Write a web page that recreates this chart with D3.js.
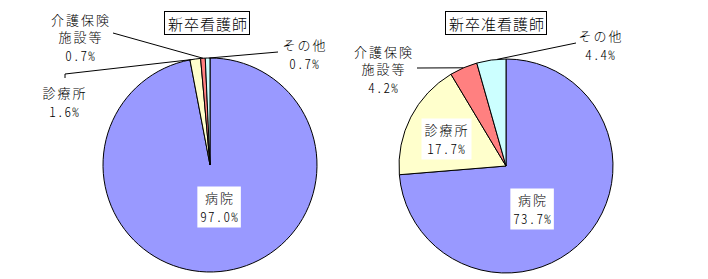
<!DOCTYPE html>
<html>
<head>
<meta charset="utf-8">
<script src="https://cdn.jsdelivr.net/npm/d3@7"></script>
<style>
  html, body { margin: 0; padding: 0; background: #fff; }
  svg { display: block; }
  .cjk { font-family: "Noto Sans CJK JP", sans-serif; font-size: 13px; font-weight: 300; letter-spacing: 2px; }
  .num { font-family: "Noto Sans CJK JP", sans-serif; font-size: 13px; font-weight: 300; font-feature-settings: "hwid" 1; letter-spacing: 1.2px; }
  .title { font-family: "Noto Sans CJK JP", sans-serif; font-size: 15px; font-weight: 300; letter-spacing: 1px; }
</style>
</head>
<body>
<svg id="chart" width="708" height="279"></svg>
<script>
// Destination categories of newly qualified nurses (%)
const categories = ["病院", "診療所", "介護保険施設等", "その他"];
const categoryLines = [["病院"], ["診療所"], ["介護保険", "施設等"], ["その他"]];
const colors = ["#9999FF", "#FFFFCC", "#FF8080", "#CCFFFF"];

const titles = ["新卒看護師", "新卒准看護師"];
const nurseValues = [97.0, 1.6, 0.7, 0.7];
const assistantNurseValues = [73.7, 17.7, 4.2, 4.4];

const svg = d3.select("#chart");
const fmt = v => d3.format(".1f")(v) + "%";
const radius = 107;
const nameGap = 17.5;   // between name lines
const valueGap = 19;    // from last name line to the value line

// Layout for each pie: centre, title box, and where each label sits.
// label: x = text centre, y = first line centre, boxed = white backing,
// leader = start points of the leader polyline, at = position within slice.
const layouts = [
  {
    cx: 210, cy: 165, titleX: 208, titleY: 23,
    labels: [
      { x: 219, y: 197.5, boxed: true },
      { x: 64, y: 92.5, leader: [[65, 78], [65, 74]], at: 0.15 },
      { x: 80, y: 19, leader: [[113, 33]], at: 0.5 },
      { x: 304, y: 44.5, leader: [[278, 52]], at: 0.85 }
    ]
  },
  {
    cx: 506, cy: 166, titleX: 497, titleY: 23,
    labels: [
      { x: 532, y: 199.5, boxed: true },
      { x: 446, y: 129.5, boxed: true },
      { x: 383, y: 51, leader: [[417, 68]], at: 0.5 },
      { x: 600, y: 35.5, leader: [[576, 43]], at: 0.7 }
    ]
  }
];

const datasets = [nurseValues, assistantNurseValues];

const pie = d3.pie().sort(null).value(d => d);
const arc = d3.arc().innerRadius(0).outerRadius(radius);

datasets.forEach((values, i) => {
  const L = layouts[i];
  const g = svg.append("g");
  const arcs = pie(values);

  // slices
  g.append("g")
    .attr("transform", `translate(${L.cx},${L.cy})`)
    .selectAll("path")
    .data(arcs)
    .join("path")
    .attr("d", arc)
    .attr("fill", (d, k) => colors[k])
    .attr("stroke", "#000")
    .attr("stroke-width", 1)
    .attr("stroke-linejoin", "round");

  // title with frame
  const t = g.append("text")
    .attr("class", "title")
    .attr("x", L.titleX)
    .attr("y", L.titleY)
    .attr("text-anchor", "middle")
    .attr("dominant-baseline", "central")
    .text(titles[i]);
  const tb = t.node().getBBox();
  g.insert("rect", "text")
    .attr("x", Math.round(tb.x) - 3.5)
    .attr("y", L.titleY - 11.5)
    .attr("width", Math.round(tb.width) + 5)
    .attr("height", 23)
    .attr("fill", "#fff")
    .attr("stroke", "#000")
    .attr("stroke-width", 1);

  // labels
  arcs.forEach((a, k) => {
    const lab = L.labels[k];
    const names = categoryLines[k];

    if (lab.leader) {
      const ang = a.startAngle + (a.endAngle - a.startAngle) * lab.at;
      const end = [L.cx + radius * Math.sin(ang), L.cy - radius * Math.cos(ang)];
      g.append("path")
        .attr("d", d3.line()(lab.leader.concat([end])))
        .attr("fill", "none")
        .attr("stroke", "#000")
        .attr("stroke-width", 1);
    }

    const lg = g.append("g");
    names.forEach((s, j) =>
      lg.append("text")
        .attr("class", "cjk")
        .attr("x", lab.x + 1)
        .attr("y", lab.y + j * nameGap)
        .attr("text-anchor", "middle")
        .attr("dominant-baseline", "central")
        .text(s)
    );
    const valueY = lab.y + (names.length - 1) * nameGap + valueGap;
    lg.append("text")
      .attr("class", "num")
      .attr("x", lab.x + 0.6)
      .attr("y", valueY)
      .attr("text-anchor", "middle")
      .attr("dominant-baseline", "central")
      .text(fmt(values[k]));

    if (lab.boxed) {
      const bb = lg.node().getBBox();
      lg.insert("rect", "text")
        .attr("x", bb.x - 3)
        .attr("y", lab.y - 11)
        .attr("width", bb.width + 5)
        .attr("height", valueY - lab.y + 22)
        .attr("fill", "#fff");
    }
  });
});
</script>
</body>
</html>
